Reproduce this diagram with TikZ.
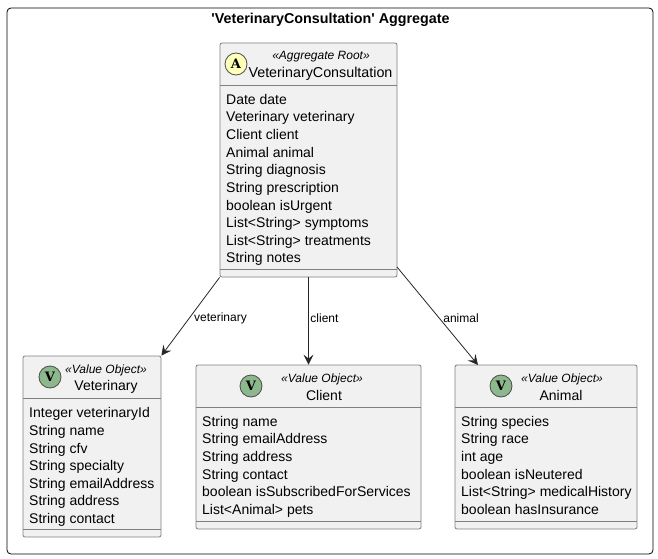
\documentclass[tikz,border=0pt]{standalone}
\usepackage{fontspec}
\setmainfont{Liberation Sans}
\newfontfamily\titlefont{Liberation Sans}
\newfontfamily\spotfont{DejaVu Serif}
\usetikzlibrary{arrows.meta}
\definecolor{boxfill}{HTML}{F1F1F1}
\definecolor{boxline}{HTML}{7F7F7F}
\definecolor{rootspot}{HTML}{FEFFB8}
\definecolor{valuespot}{HTML}{8DB78C}
\tikzset{
  classbox/.style={draw=boxline,fill=boxfill,rounded corners=2pt,line width=.8pt,inner sep=0pt},
  spot/.style={circle,draw=black!70,line width=.8pt,minimum size=22pt,inner sep=0pt,font=\spotfont\bfseries\fontsize{13}{13}\selectfont},
  stereo/.style={font=\itshape\fontsize{12}{12}\selectfont,inner sep=0pt},
  classname/.style={font=\fontsize{14}{14}\selectfont,inner sep=0pt},
  members/.style={anchor=north west,align=left,inner sep=0pt,font=\fontsize{14}{17.62}\selectfont},
  link/.style={draw=black!85,line width=.8pt,-{Stealth[length=10pt,width=10pt,inset=4pt]}},
  linklabel/.style={font=\fontsize{12}{12}\selectfont,inner sep=0pt}
}
\begin{document}
\begin{tikzpicture}[x=1pt,y=-1pt]
  \useasboundingbox (0,0) rectangle (658,559);

  \node[draw=black,rounded corners=4pt,line width=.8pt,minimum width=646pt,minimum height=546pt,inner sep=0pt] (frame) at (330,281) {};
  \node[font=\titlefont\bfseries\fontsize{14.3}{14}\selectfont,inner sep=0pt] (title) at (330.5,20) {'VeterinaryConsultation' Aggregate};

  \begin{scope}[every node/.style={classbox}]
    \node[minimum width=177pt,minimum height=234pt] (consultation) at (308.5,160) {};
    \node[minimum width=138pt,minimum height=181pt] (veterinary) at (92,446.5) {};
    \node[minimum width=225pt,minimum height=164pt] (client) at (308.5,447) {};
    \node[minimum width=182pt,minimum height=164pt] (animal) at (546,447) {};
  \end{scope}

  % compartments
  \begin{scope}[draw=boxline,line width=.8pt]
    \draw (220,85) -- (397,85);
    \draw (220,269) -- (397,269);
    \draw (23,398.5) -- (161,398.5);
    \draw (23,529) -- (161,529);
    \draw (196,407) -- (421,407);
    \draw (196,521) -- (421,521);
    \draw (455,407) -- (637,407);
    \draw (455,521) -- (637,521);
  \end{scope}

  \node[spot,fill=rootspot] (spotA) at (236,64) {A};
  \begin{scope}[every node/.style={spot,fill=valuespot}]
    \node (spotV1) at (50,377) {V};
    \node (spotV2) at (251,386) {V};
    \node (spotV3) at (501,386) {V};
  \end{scope}

  \node[stereo] (stereoA) at (321,57) {«Aggregate Root»};
  \node[classname,font=\fontsize{14.3}{14}\selectfont] (nameA) at (320.5,74) {VeterinaryConsultation};
  \node[stereo] (stereoV1) at (106,370) {«Value Object»};
  \node[classname] (nameV1) at (106,387) {Veterinary};
  \node[stereo] (stereoV2) at (322,379) {«Value Object»};
  \node[classname] (nameV2) at (324,395) {Client};
  \node[stereo] (stereoV3) at (562,379) {«Value Object»};
  \node[classname] (nameV3) at (561,395) {Animal};

  \node[members] (membersA) at (226,94) {Date date\\Veterinary veterinary\\Client client\\Animal animal\\String diagnosis\\String prescription\\boolean isUrgent\\List<String> symptoms\\List<String> treatments\\String notes};
  \node[members] (membersV1) at (29,407.5) {Integer veterinaryId\\String name\\String cfv\\String specialty\\String emailAddress\\String address\\String contact};
  \node[members] (membersV2) at (202,416) {String name\\String emailAddress\\String address\\String contact\\boolean isSubscribedForServices\\List<Animal> pets};
  \node[members] (membersV3) at (461,416) {String species\\String race\\int age\\boolean isNeutered\\List<String> medicalHistory\\boolean hasInsurance};

  \coordinate (animalout) at (397,267);
  \coordinate (animalin) at (478,365);

  \path[link] (consultation.south west) -- (veterinary.north east);
  \path[link] (consultation.south) -- (client.north);
  \path[link] (animalout) -- (animalin);

  \node[linklabel] (labelV1) at (220.5,318) {veterinary};
  \node[linklabel] (labelV2) at (324.5,318) {client};
  \node[linklabel] (labelV3) at (461,318) {animal};
\end{tikzpicture}
\end{document}
